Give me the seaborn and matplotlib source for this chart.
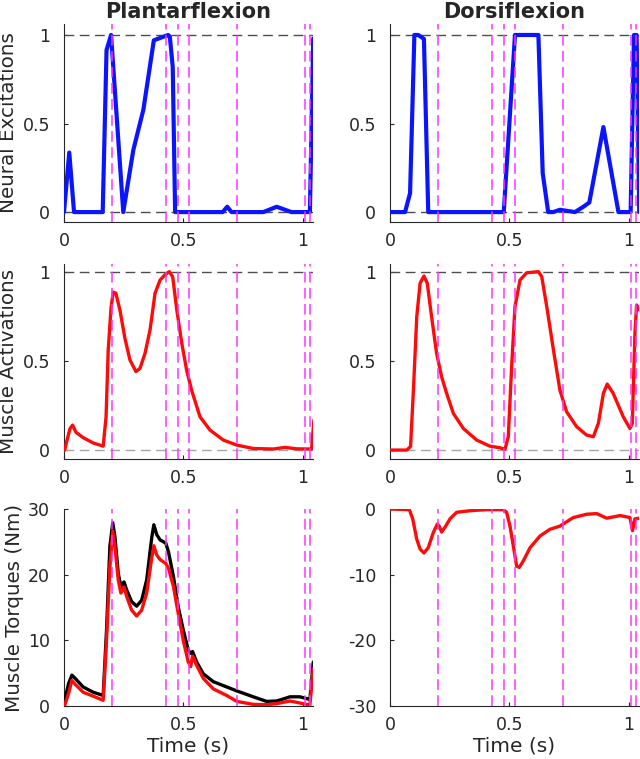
import numpy as np
import seaborn as sns
import matplotlib.pyplot as plt

# event times (magenta dashed lines)
events = [0.201, 0.426, 0.475, 0.522, 0.723, 1.010, 1.031]

# neural excitations
pf_exc_t = [0.0, 0.022, 0.042, 0.162, 0.178, 0.197, 0.248, 0.29, 0.332, 0.376, 0.436, 0.443,
            0.455, 0.465, 0.664, 0.683, 0.701, 0.834, 0.89, 0.952, 1.029, 1.043]
pf_exc = [0.0, 0.336, 0.0, 0.0, 0.915, 1.0, 0.0, 0.35, 0.577, 0.97, 1.0, 0.99,
          0.82, 0.0, 0.0, 0.03, 0.0, 0.0, 0.03, 0.0, 0.0, 0.98]
df_exc_t = [0.0, 0.063, 0.084, 0.102, 0.118, 0.142, 0.160, 0.476, 0.523, 0.621, 0.639, 0.662,
            0.683, 0.711, 0.774, 0.809, 0.834, 0.893, 0.956, 1.007, 1.021, 1.032, 1.043]
df_exc = [0.0, 0.0, 0.107, 1.0, 1.0, 0.978, 0.0, 0.0, 1.0, 1.0, 0.22, 0.0,
          0.0, 0.013, 0.0, 0.03, 0.054, 0.48, 0.0, 0.0, 1.0, 1.0, 0.0]

# muscle activations
pf_act_t = [0.003, 0.011, 0.025, 0.036, 0.05, 0.08, 0.122, 0.164, 0.176, 0.185, 0.197, 0.206,
            0.217, 0.234, 0.255, 0.276, 0.301, 0.318, 0.339, 0.36, 0.381, 0.402, 0.426, 0.441,
            0.455, 0.472, 0.493, 0.513, 0.534, 0.569, 0.611, 0.667, 0.723, 0.792, 0.876, 0.925,
            0.973, 1.036, 1.046]
pf_act = [0.0, 0.047, 0.12, 0.14, 0.10, 0.07, 0.04, 0.022, 0.187, 0.56, 0.80, 0.885,
          0.88, 0.785, 0.626, 0.505, 0.44, 0.458, 0.542, 0.673, 0.879, 0.953, 0.987, 1.0,
          0.97, 0.785, 0.598, 0.449, 0.336, 0.187, 0.112, 0.056, 0.028, 0.009, 0.006, 0.015,
          0.007, 0.006, 0.17]
df_act_t = [0.0, 0.07, 0.086, 0.098, 0.112, 0.126, 0.142, 0.156, 0.174, 0.195, 0.216, 0.237,
            0.265, 0.307, 0.363, 0.418, 0.46, 0.481, 0.495, 0.509, 0.523, 0.544, 0.572, 0.621,
            0.635, 0.656, 0.684, 0.711, 0.739, 0.781, 0.823, 0.851, 0.872, 0.893, 0.909, 0.934,
            0.976, 1.004, 1.014, 1.025, 1.032, 1.043]
df_act = [0.0, 0.0, 0.02, 0.336, 0.748, 0.935, 0.976, 0.935, 0.748, 0.542, 0.411, 0.318,
          0.206, 0.121, 0.056, 0.022, 0.013, 0.004, 0.075, 0.467, 0.804, 0.953, 0.994, 1.0,
          0.972, 0.804, 0.561, 0.336, 0.215, 0.131, 0.084, 0.075, 0.15, 0.318, 0.37, 0.318,
          0.187, 0.121, 0.15, 0.654, 0.813, 0.785]

# muscle torques (Nm)
pf_trq_t = [0.003, 0.019, 0.033, 0.047, 0.08, 0.122, 0.164, 0.178, 0.192, 0.204, 0.213, 0.227,
            0.238, 0.251, 0.262, 0.283, 0.304, 0.325, 0.346, 0.367, 0.376, 0.388, 0.402, 0.426,
            0.437, 0.458, 0.478, 0.499, 0.52, 0.53, 0.538, 0.555, 0.583, 0.625, 0.681, 0.723,
            0.792, 0.848, 0.89, 0.946, 0.987, 1.029, 1.043]
pf_trq_black = [0.87, 3.4, 4.7, 4.2, 2.9, 2.1, 1.6, 11.6, 24.3, 27.9, 25.8, 20.2,
                18.2, 18.9, 17.7, 15.9, 15.2, 16.1, 19.2, 25.6, 27.6, 26.1, 25.3, 24.8,
                23.5, 19.7, 15.1, 11.6, 8.5, 8.0, 8.3, 6.7, 4.9, 3.7, 2.9, 2.3,
                1.4, 0.7, 0.76, 1.4, 1.4, 1.0, 6.7]
pf_trq_red = [0.1, 1.9, 3.9, 3.3, 2.1, 1.5, 0.87, 10.0, 21.2, 26.6, 24.3, 19.2,
              17.2, 18.1, 16.7, 14.6, 13.7, 14.6, 17.2, 22.5, 24.4, 23.0, 22.3, 21.7,
              21.0, 18.2, 14.1, 10.0, 6.7, 6.0, 7.6, 6.2, 4.2, 2.6, 1.6, 0.7,
              0.25, 0.2, 0.36, 0.76, 0.46, 0.15, 5.7]
df_trq_t = [0.0, 0.081, 0.095, 0.112, 0.126, 0.142, 0.16, 0.181, 0.198, 0.206, 0.216, 0.23,
            0.251, 0.279, 0.335, 0.404, 0.474, 0.488, 0.502, 0.516, 0.53, 0.541, 0.558, 0.586,
            0.628, 0.669, 0.711, 0.767, 0.823, 0.865, 0.907, 0.963, 1.004, 1.015, 1.025, 1.043]
df_trq = [0.0, -0.1, -1.5, -4.6, -6.1, -6.7, -5.9, -3.6, -2.3, -2.6, -3.5, -2.8,
          -1.5, -0.5, -0.26, -0.1, -0.1, -0.5, -2.6, -5.6, -8.7, -8.9, -7.9, -5.9,
          -4.1, -3.1, -2.6, -1.3, -0.8, -0.7, -1.4, -1.0, -1.3, -3.3, -1.5, -1.4]

x_ticks = [0, 0.5, 1]
x_ticklabels = ["0", "0.5", "1"]

sns.set_style("ticks")
plt.rcParams["font.family"] = ["DejaVu Sans"]
plt.rcParams["axes.unicode_minus"] = False

fig = plt.figure(figsize=(6.4, 7.59), dpi=100)

W = 249 / 640
lefts = [64 / 640, 390 / 640]
rows = [(1 - 222 / 759, 198 / 759), (1 - 459 / 759, 195 / 759), (1 - 706 / 759, 197 / 759)]

axes = [[fig.add_axes([l, b, W, h]) for l in lefts] for (b, h) in rows]

def style(ax, ylim, yticks, yticklabels):
    ax.set_xlim(0, 1.042)
    ax.set_ylim(*ylim)
    ax.set_xticks(x_ticks)
    ax.set_xticklabels(x_ticklabels)
    ax.set_yticks(yticks)
    ax.set_yticklabels(yticklabels)
    ax.tick_params(direction="in", length=3, width=0.8, labelsize=12.5, colors="0.15")
    ax.tick_params(axis="y", pad=10)
    ax.tick_params(axis="x", pad=7)
    for s in ["top", "right"]:
        ax.spines[s].set_visible(False)
    for s in ["left", "bottom"]:
        ax.spines[s].set_color("0.15")
        ax.spines[s].set_linewidth(0.8)
    ax.set_xlabel("")
    ax.set_ylabel("")
    for e in events:
        ax.axvline(e, color="#ff33ff", lw=1.1, ls=(0, (7, 3.5)), zorder=5)

# row 1: neural excitations
for ax, t, v in [(axes[0][0], pf_exc_t, pf_exc), (axes[0][1], df_exc_t, df_exc)]:
    ax.axhline(1, color="0.3", lw=1.0, ls=(0, (7, 4)), zorder=1)
    ax.axhline(0, color="0.3", lw=1.0, ls=(0, (7, 4)), zorder=1)
    sns.lineplot(x=t, y=v, ax=ax, color="#0a14ff", lw=3.0, estimator=None, sort=False, zorder=3)
    style(ax, (-0.056, 1.062), [0, 0.5, 1], ["0", "0.5", "1"])

# row 2: muscle activations
for ax, t, v in [(axes[1][0], pf_act_t, pf_act), (axes[1][1], df_act_t, df_act)]:
    ax.axhline(1, color="0.3", lw=1.0, ls=(0, (7, 4)), zorder=1)
    ax.axhline(0, color="0.65", lw=1.0, ls=(0, (7, 4)), zorder=1)
    sns.lineplot(x=t, y=v, ax=ax, color="#ff0a0a", lw=2.4, estimator=None, sort=False, zorder=3)
    style(ax, (-0.05, 1.043), [0, 0.5, 1], ["0", "0.5", "1"])

# row 3: muscle torques
ax = axes[2][0]
sns.lineplot(x=pf_trq_t, y=pf_trq_black, ax=ax, color="black", lw=2.4, estimator=None, sort=False, zorder=3)
sns.lineplot(x=pf_trq_t, y=pf_trq_red, ax=ax, color="#ff0a0a", lw=2.4, estimator=None, sort=False, zorder=3)
style(ax, (0, 30), [0, 10, 20, 30], ["0", "10", "20", "30"])

ax = axes[2][1]
sns.lineplot(x=df_trq_t, y=df_trq, ax=ax, color="#ff0a0a", lw=2.4, estimator=None, sort=False, zorder=3)
style(ax, (-30, 0), [-30, -20, -10, 0], ["-30", "-20", "-10", "0"])

axes[0][0].set_title("Plantarflexion", fontsize=15, fontweight="bold", pad=4)
axes[0][1].set_title("Dorsiflexion", fontsize=15, fontweight="bold", pad=4)
axes[0][0].set_ylabel("Neural Excitations", fontsize=14.3, color="0.15", labelpad=3)
axes[1][0].set_ylabel("Muscle Activations", fontsize=14.3, color="0.15", labelpad=3)
axes[2][0].set_ylabel("Muscle Torques (Nm)", fontsize=14.3, color="0.15", labelpad=3)
for ax in axes[2]:
    ax.set_xlabel("Time (s)", fontsize=14.5, color="0.15", labelpad=2)

fig.savefig("out.png", dpi=100)
